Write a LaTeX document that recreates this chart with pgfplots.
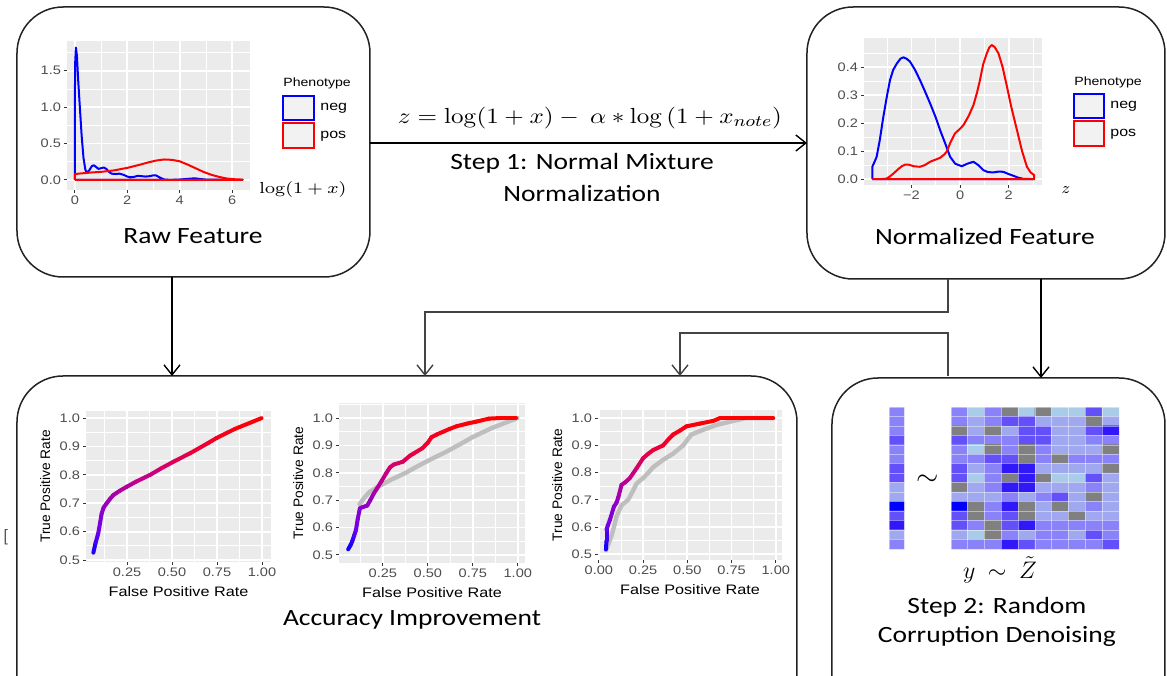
\documentclass[border=0pt]{standalone}
\usepackage{pgfplots}
\pgfplotsset{compat=1.18}
\usepackage[no-math]{fontspec}
\usetikzlibrary{arrows.meta}
\setmainfont{Carlito}
\newfontfamily\calw[FakeStretch=1.18]{Carlito}
\newfontfamily\ggw[FakeStretch=1.18]{Liberation Sans}
\newfontfamily\ggn{Liberation Sans}
\definecolor{ggbg}{HTML}{EBEBEB}
\definecolor{ggtxt}{HTML}{4D4D4D}
\definecolor{ggtick}{HTML}{333333}
\definecolor{keybg}{HTML}{F2F2F2}
\definecolor{rocgray}{HTML}{BEBEBE}
\definecolor{boxline}{HTML}{222222}
\definecolor{conn}{HTML}{444444}

\pgfplotsset{
  colormap={roc}{rgb255(0cm)=(0,0,255) rgb255(8cm)=(110,0,235) rgb255(18cm)=(150,0,190) rgb255(28cm)=(200,0,130) rgb255(38cm)=(240,0,50) rgb255(48cm)=(255,0,0)},
  colormap={hm}{rgb255=(128,128,128) rgb255=(169,204,232) rgb255=(160,168,240) rgb255=(138,130,248) rgb255=(100,80,248) rgb255=(48,24,248) rgb255=(0,0,255)},
  ggplot/.style={
    scale only axis,
    axis background/.style={fill=ggbg},
    axis line style={draw=none},
    tick pos=left,
    tick align=outside,
    major tick length=1.6bp,
    minor tick length=0bp,
    tick style={ggtick, line width=0.5bp},
    grid=both,
    major grid style={white, line width=0.9bp},
    minor grid style={white, line width=0.45bp},
    tick label style={font=\ggw\fontsize{6.2}{7}\selectfont, text=ggtxt},
    xticklabel style={inner sep=1.2bp},
    yticklabel style={inner sep=1.2bp},
    xlabel style={font=\ggw\fontsize{6.9}{8}\selectfont},
    ylabel style={font=\ggn\fontsize{6.9}{8}\selectfont},
  },
  rocax/.style={ggplot,
    ytick={0.5,0.6,0.7,0.8,0.9,1.0}, yticklabels={0.5,0.6,0.7,0.8,0.9,1.0},
    minor ytick={0.55,0.65,0.75,0.85,0.95,1.05},
    xlabel={False Positive Rate}, ylabel={True Positive Rate},
    colormap name=roc, point meta min=0.52, point meta max=1},
  heat/.style={scale only axis, anchor=north west, axis line style={draw=none}, tick style={draw=none},
    xticklabels={}, yticklabels={}, grid=major, axis on top,
    major grid style={white, opacity=0.45, line width=0.35bp},
    ymin=0.5, ymax=15.5, y dir=reverse, ytick={0.5,1.5,...,15.5},
    colormap name=hm, colormap access=direct},
}

\begin{document}
\begin{tikzpicture}
\useasboundingbox (0bp,0bp) rectangle (583.5bp,-338bp);
\begin{scope}[x=0.5bp,y=-0.5bp,
  arr/.style={-{Straight Barb[length=5bp,width=8bp,line width=0.7bp]}, line width=0.7bp, black},
  bx/.style={draw=boxline, line width=0.75bp, rounded corners=23bp},
  ttl/.style={font=\calw\fontsize{11.7}{14}\selectfont, inner sep=1bp},
  keyt/.style={font=\ggw\fontsize{6.8}{8}\selectfont, anchor=west, inner sep=0pt},
  leg/.style={font=\ggw\fontsize{6}{7}\selectfont, anchor=west, inner sep=0pt}]

% boxes
\draw[bx] (17,7) rectangle (370,277);
\draw[bx] (807,7) rectangle (1165,279);
\draw[bx] (17,376) rectangle (797,740);
\draw[bx] (832,378) rectangle (1165,740);

% arrows and connectors
\draw[arr] (370,143) -- (807,143);
\draw[arr] (172,277) -- (172,376);
\draw[arr] (1041,279) -- (1041,378);
\draw[arr, draw=conn] (948,279) -- (948,312) -- (425,312) -- (425,376);
\draw[arr, draw=conn] (948,376) -- (948,333) -- (680,333) -- (680,376);

% texts
\node at (590,118) {\scalebox{1.15}[1]{\fontsize{11}{13}\selectfont $z=\log(1+x)-\ \alpha*\log\,(1+x_{note})$}};
\node[ttl] at (582,163) {Step 1: Normal Mixture};
\node[ttl] at (582,193) {Normalization};
\node[ttl] at (193,236) {Raw Feature};
\node[ttl] at (985,236) {Normalized Feature};
\node[ttl] at (412,620) {Accuracy Improvement};
\node[ttl] at (997,607) {Step 2: Random};
\node[ttl] at (997,636) {Corruption Denoising};
\node[inner sep=0pt] at (1000,570) {\fontsize{13}{15}\selectfont $y\ \sim\ \tilde{Z}$};
\node at (928,480) {\fontsize{14}{16}\selectfont $\sim$};
\node at (303,190) {\scalebox{1.18}[1]{\fontsize{8}{10}\selectfont $\log(1+x)$}};
\node at (1066,190) {\fontsize{8}{10}\selectfont $z$};
\node[text=ggtxt] at (6,537) {\fontsize{9}{10}\selectfont [};

% legends
\node[leg] at (283,83) {Phenotype};
\draw[blue, fill=keybg, line width=0.75bp] (283,96) rectangle (314,120);
\draw[red, fill=keybg, line width=0.75bp] (283,123) rectangle (314,148);
\node[keyt] at (320,108) {neg};
\node[keyt] at (320,136) {pos};
\node[leg] at (1074,82) {Phenotype};
\draw[blue, fill=keybg, line width=0.75bp] (1074,94) rectangle (1104,118);
\draw[red, fill=keybg, line width=0.75bp] (1074,121) rectangle (1104,146);
\node[keyt] at (1110,106) {neg};
\node[keyt] at (1110,134) {pos};
\end{scope}

% Raw feature density
\begin{axis}[ggplot, at={(33.5bp,-20.5bp)}, anchor=north west, width=91.5bp, height=74.5bp,
  xmin=-0.3, xmax=6.68, ymin=-0.14, ymax=1.91,
  xtick={0,2,4,6}, xticklabels={0,2,4,6}, minor xtick={1,3,5},
  ytick={0,0.5,1,1.5}, yticklabels={0.0,0.5,1.0,1.5}, minor ytick={0.25,0.75,1.25,1.75}]
\addplot[blue, line width=1bp, line join=round] coordinates {
(0,0) (0,1.0) (0.01,1.6) (0.04,1.82) (0.08,1.7) (0.13,1.35) (0.19,1.0) (0.26,0.6) (0.33,0.3) (0.4,0.14) (0.45,0.1) (0.55,0.13) (0.65,0.19) (0.72,0.2) (0.8,0.18) (0.9,0.15) (1.0,0.16) (1.1,0.17) (1.2,0.15) (1.3,0.11) (1.4,0.085) (1.55,0.08) (1.7,0.085) (1.85,0.07) (2.0,0.045) (2.1,0.035) (2.25,0.04) (2.4,0.055) (2.55,0.05) (2.7,0.045) (2.85,0.05) (3.0,0.062) (3.1,0.06) (3.25,0.03) (3.4,0.005) (3.6,0.0) (3.9,0.002) (4.2,0.01) (4.45,0.018) (4.6,0.02) (4.8,0.01) (5.0,0.004) (5.3,0.002) (5.8,0.0) (6.4,0) (0,0)};
\addplot[red, line width=1bp, line join=round] coordinates {
(0,0) (0,0.08) (0.3,0.09) (0.6,0.1) (1.0,0.11) (1.5,0.13) (2.0,0.165) (2.5,0.21) (2.8,0.24) (3.1,0.265) (3.4,0.28) (3.7,0.275) (4.0,0.255) (4.3,0.21) (4.6,0.16) (4.9,0.11) (5.2,0.07) (5.5,0.04) (5.8,0.018) (6.1,0.008) (6.4,0.003) (6.4,0) (0,0)};
\end{axis}

% Normalized density
\begin{axis}[ggplot, at={(432bp,-19bp)}, anchor=north west, width=89bp, height=73.5bp,
  xmin=-3.95, xmax=3.37, ymin=-0.021, ymax=0.504,
  xtick={-2,0,2}, xticklabels={−2,0,2}, minor xtick={-3,-1,1,3},
  ytick={0,0.1,0.2,0.3,0.4}, yticklabels={0.0,0.1,0.2,0.3,0.4}, minor ytick={0.05,0.15,0.25,0.35,0.45}]
\addplot[blue, line width=1bp, line join=round] coordinates {
(-3.61,0) (-3.61,0.044) (-3.5,0.065) (-3.43,0.08) (-3.3,0.14) (-3.16,0.22) (-3.0,0.3) (-2.88,0.354) (-2.75,0.39) (-2.6,0.413) (-2.45,0.43) (-2.33,0.435) (-2.2,0.43) (-2.06,0.42) (-1.85,0.39) (-1.65,0.354) (-1.45,0.315) (-1.23,0.27) (-1.0,0.22) (-0.82,0.175) (-0.6,0.125) (-0.41,0.08) (-0.2,0.055) (0.07,0.046) (0.3,0.055) (0.55,0.062) (0.75,0.05) (0.96,0.032) (1.15,0.025) (1.37,0.024) (1.6,0.027) (1.78,0.026) (2.0,0.018) (2.19,0.012) (2.4,0.005) (2.6,0.001) (3.05,0) (-3.61,0)};
\addplot[red, line width=1bp, line join=round] coordinates {
(-3.61,0) (-3.2,0) (-3.02,0.002) (-2.88,0.01) (-2.74,0.02) (-2.55,0.035) (-2.4,0.046) (-2.25,0.052) (-2.13,0.052) (-1.9,0.046) (-1.65,0.044) (-1.45,0.05) (-1.23,0.062) (-1.0,0.07) (-0.82,0.076) (-0.65,0.088) (-0.55,0.098) (-0.4,0.13) (-0.21,0.163) (0.0,0.18) (0.14,0.193) (0.35,0.225) (0.55,0.264) (0.7,0.31) (0.82,0.354) (0.95,0.41) (1.1,0.449) (1.2,0.47) (1.3,0.479) (1.42,0.472) (1.58,0.449) (1.75,0.4) (1.93,0.33) (2.1,0.26) (2.34,0.175) (2.55,0.1) (2.75,0.044) (2.9,0.024) (3.05,0.014) (3.05,0) (-3.61,0)};
\end{axis}

% ROC 1
\begin{axis}[rocax, at={(43bp,-205.5bp)}, anchor=north west, width=92.5bp, height=75.5bp,
  xmin=0.022, xmax=1.05, ymin=0.493, ymax=1.025,
  xtick={0.25,0.5,0.75,1}, xticklabels={0.25,0.50,0.75,1.00}, minor xtick={0.125,0.375,0.625,0.875}]
\addplot[mesh, point meta=y, line width=2bp, line cap=round] coordinates {
(0.063,0.526) (0.075,0.56) (0.09,0.594) (0.1,0.63) (0.109,0.664) (0.12,0.685) (0.137,0.70) (0.155,0.715) (0.174,0.729) (0.21,0.744) (0.248,0.758) (0.3,0.776) (0.378,0.80) (0.44,0.823) (0.507,0.846) (0.6,0.876) (0.7,0.912) (0.748,0.93) (0.85,0.962) (0.998,1.0)};
\end{axis}

% ROC 2
\begin{axis}[rocax, at={(169.5bp,-201.5bp)}, anchor=north west, width=93bp, height=80bp,
  xmin=0.006, xmax=1.04, ymin=0.47, ymax=1.055,
  xtick={0.25,0.5,0.75,1}, xticklabels={0.25,0.50,0.75,1.00}, minor xtick={0.125,0.375,0.625,0.875}]
\addplot[rocgray, line width=2.2bp, line cap=round, line join=round] coordinates {
(0.12,0.685) (0.137,0.70) (0.155,0.715) (0.174,0.729) (0.21,0.744) (0.248,0.758) (0.3,0.776) (0.378,0.80) (0.44,0.823) (0.507,0.846) (0.6,0.876) (0.7,0.912) (0.748,0.93) (0.85,0.962) (0.998,1.0)};
\addplot[mesh, point meta=y, line width=2bp, line cap=round] coordinates {
(0.057,0.52) (0.07,0.535) (0.08,0.55) (0.09,0.57) (0.1,0.59) (0.11,0.63) (0.122,0.67) (0.14,0.675) (0.163,0.68) (0.18,0.70) (0.2,0.725) (0.215,0.74) (0.243,0.77) (0.27,0.80) (0.29,0.82) (0.31,0.83) (0.36,0.84) (0.4,0.862) (0.42,0.87) (0.47,0.89) (0.5,0.91) (0.52,0.93) (0.55,0.94) (0.585,0.95) (0.62,0.96) (0.66,0.97) (0.72,0.98) (0.77,0.987) (0.84,0.998) (0.9,1.0) (0.99,1.0)};
\end{axis}

% ROC 3
\begin{axis}[rocax, at={(299bp,-205bp)}, anchor=north west, width=92bp, height=75bp,
  xmin=-0.005, xmax=1.035, ymin=0.479, ymax=1.03,
  xtick={0,0.25,0.5,0.75,1}, xticklabels={0.00,0.25,0.50,0.75,1.00}, minor xtick={0.125,0.375,0.625,0.875},
  minor ytick={0.55,0.65,0.75,0.85,0.95}]
\addplot[rocgray, line width=2.2bp, line cap=round, line join=round] coordinates {
(0.04,0.515) (0.055,0.54) (0.07,0.565) (0.085,0.6) (0.1,0.64) (0.128,0.68) (0.165,0.70) (0.19,0.73) (0.213,0.76) (0.25,0.78) (0.28,0.80) (0.307,0.82) (0.363,0.847) (0.42,0.87) (0.476,0.90) (0.523,0.94) (0.589,0.957) (0.664,0.975) (0.758,0.99) (0.83,1.0) (0.985,1.0)};
\addplot[mesh, point meta=y, line width=2bp, line cap=round] coordinates {
(0.04,0.518) (0.043,0.55) (0.043,0.59) (0.05,0.605) (0.062,0.626) (0.085,0.675) (0.1,0.69) (0.11,0.71) (0.128,0.755) (0.15,0.765) (0.175,0.78) (0.213,0.816) (0.25,0.853) (0.28,0.87) (0.307,0.883) (0.363,0.90) (0.39,0.92) (0.42,0.94) (0.46,0.955) (0.495,0.97) (0.57,0.98) (0.646,0.99) (0.684,1.0) (0.985,1.0)};
\end{axis}

% heatmap column y
\begin{axis}[heat, at={(444.5bp,-203.5bp)}, width=7.5bp, height=71bp,
  xmin=-0.5, xmax=0.5, xtick={-0.5,0.5}]
\addplot[matrix plot*, mesh/cols=2, point meta=explicit] table[meta=c] {
x y c
0 1 3
1 1 3
0 2 3
1 2 3
0 3 3
1 3 3
0 4 4
1 4 4
0 5 3
1 5 3
0 6 3
1 6 3
0 7 4
1 7 4
0 8 4
1 8 4
0 9 2
1 9 2
0 10 2
1 10 2
0 11 6
1 11 6
0 12 4
1 12 4
0 13 5
1 13 5
0 14 2
1 14 2
0 15 3
1 15 3
};
\end{axis}

% heatmap matrix Z
\begin{axis}[heat, at={(475.5bp,-203.5bp)}, width=84bp, height=71bp,
  xmin=-0.5, xmax=9.5, xtick={-0.5,0.5,...,9.5}]
\addplot[matrix plot*, mesh/cols=10, point meta=explicit] table[meta=c] {
x y c
0 1 3
1 1 1
2 1 3
3 1 0
4 1 1
5 1 0
6 1 1
7 1 1
8 1 4
9 1 1
0 2 3
1 2 2
2 2 3
3 2 4
4 2 4
5 2 2
6 2 2
7 2 2
8 2 0
9 2 2
0 3 0
1 3 2
2 3 0
3 3 2
4 3 4
5 3 4
6 3 2
7 3 2
8 3 4
9 3 5
0 4 4
1 4 3
2 4 3
3 4 3
4 4 4
5 4 4
6 4 2
7 4 2
8 4 3
9 4 3
0 5 3
1 5 1
2 5 0
3 5 3
4 5 0
5 5 3
6 5 2
7 5 2
8 5 2
9 5 0
0 6 3
1 6 3
2 6 4
3 6 4
4 6 0
5 6 3
6 6 0
7 6 3
8 6 3
9 6 3
0 7 4
1 7 2
2 7 3
3 7 5
4 7 5
5 7 2
6 7 2
7 7 2
8 7 2
9 7 0
0 8 4
1 8 1
2 8 3
3 8 0
4 8 5
5 8 0
6 8 1
7 8 1
8 8 4
9 8 2
0 9 0
1 9 2
2 9 3
3 9 5
4 9 5
5 9 2
6 9 2
7 9 2
8 9 3
9 9 2
0 10 2
1 10 2
2 10 2
3 10 3
4 10 2
5 10 3
6 10 4
7 10 2
8 10 0
9 10 2
0 11 6
1 11 0
2 11 3
3 11 5
4 11 0
5 11 2
6 11 0
7 11 2
8 11 3
9 11 2
0 12 4
1 12 0
2 12 3
3 12 4
4 12 0
5 12 2
6 12 2
7 12 0
8 12 2
9 12 2
0 13 4
1 13 3
2 13 0
3 13 4
4 13 5
5 13 3
6 13 3
7 13 3
8 13 3
9 13 3
0 14 2
1 14 1
2 14 0
3 14 3
4 14 2
5 14 3
6 14 3
7 14 2
8 14 4
9 14 3
0 15 3
1 15 3
2 15 3
3 15 5
4 15 4
5 15 3
6 15 3
7 15 3
8 15 3
9 15 4
};
\end{axis}
\end{tikzpicture}
\end{document}
